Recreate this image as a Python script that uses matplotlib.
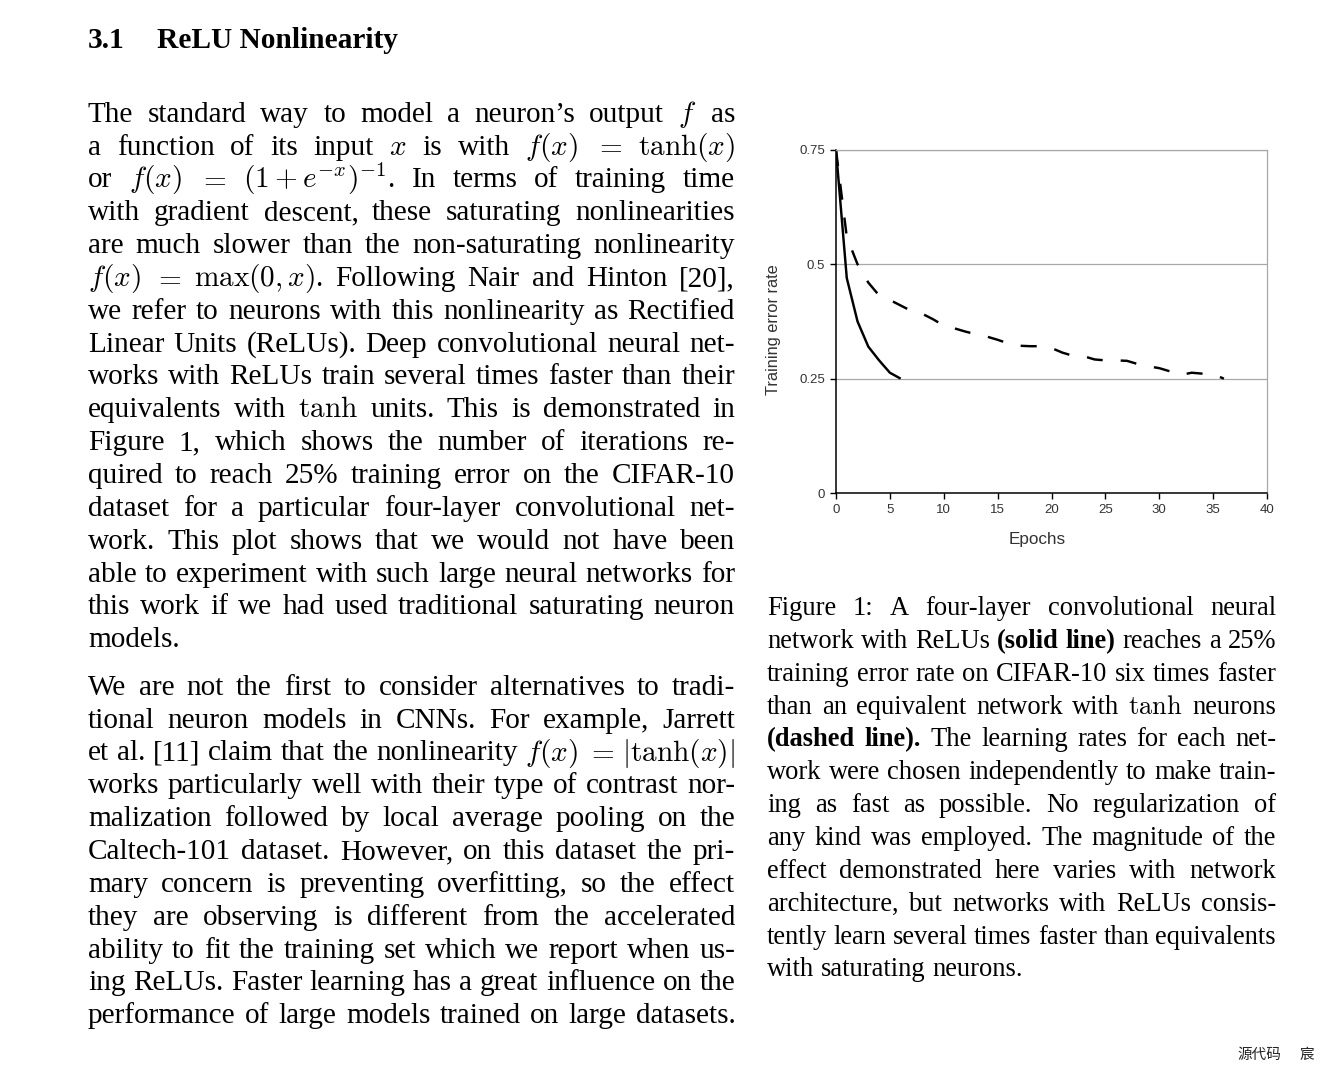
import matplotlib
matplotlib.use("Agg")
import matplotlib.pyplot as plt

plt.rcParams["mathtext.fontset"] = "cm"

# chart data
relu_epochs = [0, 1, 2, 3, 4, 5, 6]
relu_error = [0.75, 0.47, 0.375, 0.32, 0.29, 0.263, 0.25]

tanh_epochs = list(range(0, 37))
tanh_error = [0.75, 0.56, 0.50, 0.46, 0.432, 0.422, 0.41, 0.398, 0.392, 0.38,
              0.366, 0.36, 0.353, 0.347, 0.342, 0.335, 0.327, 0.322, 0.321, 0.321,
              0.317, 0.307, 0.300, 0.299, 0.292, 0.290, 0.290, 0.289, 0.282, 0.277,
              0.273, 0.266, 0.258, 0.263, 0.261, 0.260, 0.250]

x_ticks = [0, 5, 10, 15, 20, 25, 30, 35, 40]
y_ticks = [0, 0.25, 0.5, 0.75]
y_tick_labels = ["0", "0.25", "0.5", "0.75"]

heading_num = "3.1"
heading_title = "ReLU Nonlinearity"

para1 = [
    "The standard way to model a neuron’s output $f$ as",
    "a function of its input $x$ is with $f(x)$ $=$ $\\tanh(x)$",
    "or $f(x)$ $=$ $(1+e^{-x})^{-1}$. In terms of training time",
    "with gradient descent, these saturating nonlinearities",
    "are much slower than the non-saturating nonlinearity",
    "$f(x)$ $=$ $\\max(0,x)$. Following Nair and Hinton [20],",
    "we refer to neurons with this nonlinearity as Rectified",
    "Linear Units (ReLUs). Deep convolutional neural net-",
    "works with ReLUs train several times faster than their",
    "equivalents with $\\tanh$ units. This is demonstrated in",
    "Figure 1, which shows the number of iterations re-",
    "quired to reach 25% training error on the CIFAR-10",
    "dataset for a particular four-layer convolutional net-",
    "work. This plot shows that we would not have been",
    "able to experiment with such large neural networks for",
    "this work if we had used traditional saturating neuron",
    "models.",
]

para2 = [
    "We are not the first to consider alternatives to tradi-",
    "tional neuron models in CNNs. For example, Jarrett",
    "et al. [11] claim that the nonlinearity $f(x)$ $=$ $|\\tanh(x)|$",
    "works particularly well with their type of contrast nor-",
    "malization followed by local average pooling on the",
    "Caltech-101 dataset. However, on this dataset the pri-",
    "mary concern is preventing overfitting, so the effect",
    "they are observing is different from the accelerated",
    "ability to fit the training set which we report when us-",
    "ing ReLUs. Faster learning has a great influence on the",
    "performance of large models trained on large datasets.",
]

# words starting with § are bold
caption = [
    "Figure 1: A four-layer convolutional neural",
    "network with ReLUs §(solid §line) reaches a 25%",
    "training error rate on CIFAR-10 six times faster",
    "than an equivalent network with $\\tanh$ neurons",
    "§(dashed §line). The learning rates for each net-",
    "work were chosen independently to make train-",
    "ing as fast as possible. No regularization of",
    "any kind was employed. The magnitude of the",
    "effect demonstrated here varies with network",
    "architecture, but networks with ReLUs consis-",
    "tently learn several times faster than equivalents",
    "with saturating neurons.",
]

watermark = ["源代码", "宸"]

W, H = 1325, 1070
SERIF = "Liberation Serif"
BODY = 21.1
CAP = 19.1
PITCH = 32.85

fig = plt.figure(figsize=(W / 100, H / 100), dpi=100)
fig.patch.set_facecolor("white")
renderer = fig.canvas.get_renderer()


def put_line(line, x0, x1, y, size, justify=True, space=0.25):
    toks = line.split()
    objs, widths = [], []
    for tok in toks:
        weight = "normal"
        if tok.startswith("§"):
            tok, weight = tok[1:], "bold"
        t = fig.text(0, 1 - y / H, tok, fontsize=size, fontweight=weight,
                     family=SERIF, va="baseline", ha="left", color="black")
        objs.append(t)
        widths.append(t.get_window_extent(renderer).width)
    if justify and len(toks) > 1:
        gap = (x1 - x0 - sum(widths)) / (len(toks) - 1)
    else:
        gap = space * size * 100 / 72
    x = x0
    for t, w in zip(objs, widths):
        t.set_x(x / W)
        x += w + gap


def put_paragraph(lines, x0, x1, y0, size, last_space=0.25):
    for i, line in enumerate(lines):
        put_line(line, x0, x1, y0 + i * PITCH, size,
                 justify=(i < len(lines) - 1), space=last_space)


fig.text(88 / W, 1 - 48.3 / H, heading_num, fontsize=21.2, fontweight="bold",
         family=SERIF, va="baseline")
fig.text(157 / W, 1 - 48.3 / H, heading_title, fontsize=21.2, fontweight="bold",
         family=SERIF, va="baseline")

put_paragraph(para1, 88, 735, 121.7, BODY)
put_paragraph(para2, 88, 735, 694.8, BODY, last_space=0.32)
put_paragraph(caption, 767, 1276, 615.0, CAP)

fig.text(1237 / W, 1 - 1059 / H, watermark[0], fontsize=10.5,
         family="Noto Sans CJK SC", color="#222222", va="baseline")
fig.text(1300 / W, 1 - 1059 / H, watermark[1], fontsize=10.5,
         family="Noto Sans CJK SC", color="#222222", va="baseline")

# chart
ax = fig.add_axes([836 / W, 1 - 493 / H, (1267 - 836) / W, (493 - 150) / H])
ax.plot(relu_epochs, relu_error, color="black", lw=1.75, solid_capstyle="butt",
        solid_joinstyle="round")
ax.plot(tanh_epochs, tanh_error, color="black", lw=1.75,
        linestyle=(0, (6.6, 7.4)), dash_capstyle="butt")
ax.set_xlim(0, 40)
ax.set_ylim(0, 0.75)
ax.set_xticks(x_ticks)
ax.set_yticks(y_ticks)
ax.set_yticklabels(y_tick_labels)
for yv in y_ticks[1:]:
    ax.axhline(yv, color="#a8a8a8", lw=0.9, zorder=0)
ax.spines["top"].set_color("#a8a8a8")
ax.spines["right"].set_color("#a8a8a8")
ax.spines["top"].set_linewidth(0.9)
ax.spines["right"].set_linewidth(0.9)
ax.spines["left"].set_linewidth(1.1)
ax.spines["bottom"].set_linewidth(1.1)
ax.tick_params(axis="both", direction="out", length=4, width=1, color="black",
               labelcolor="#333333", labelsize=9.5)
ax.tick_params(axis="x", pad=4)
ax.tick_params(axis="y", pad=4)
for lab in ax.get_xticklabels() + ax.get_yticklabels():
    lab.set_family("Liberation Sans")
ax.set_xlabel("Epochs", fontsize=12.3, family="Liberation Sans", color="#333333")
ax.set_ylabel("Training error rate", fontsize=11.8, family="Liberation Sans",
              color="#333333")
ax.xaxis.set_label_coords((1037 - 836) / 431, -0.115)
ax.yaxis.set_label_coords(-0.128, (493 - 330) / 343)

fig.savefig("out.png", dpi=100, facecolor="white")
